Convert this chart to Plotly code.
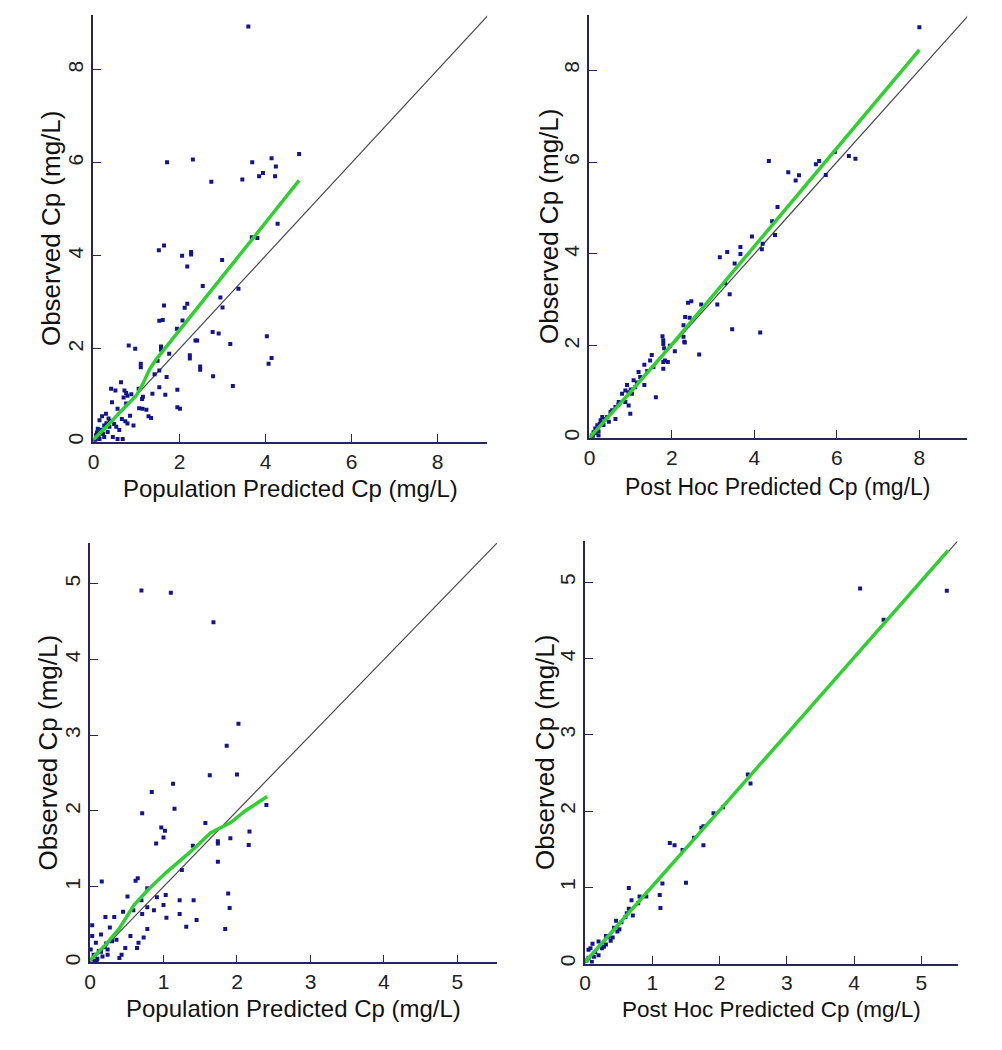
import plotly.graph_objects as go

W, H = 1002, 1050

# ---------------- data ----------------
# Panel A: population predicted (top-left)
popA_pred = [3.60, 1.71, 2.31, 2.74, 3.69, 3.46, 3.94, 3.85, 4.14, 4.24, 4.22, 4.78, 4.28, 3.68, 3.81, 1.52, 1.64, 2.06, 2.27, 2.27,
             2.18, 2.99, 2.54, 3.37, 1.64, 1.53, 1.61, 2.18, 2.12, 2.07, 1.94, 2.95, 3.00, 2.77, 2.91, 2.37, 2.41, 3.18, 4.03, 2.24,
             2.24, 2.48, 2.48, 4.14, 4.07, 2.78, 3.24, 0.82, 0.97, 1.10, 1.10, 1.57, 1.57, 1.76, 1.49, 1.53, 1.70, 0.64, 0.41, 0.51,
             0.72, 0.79, 0.76, 1.05, 1.13, 1.53, 1.67, 1.95, 1.37, 0.43, 1.06, 1.14, 1.23, 1.28, 1.34, 1.95, 2.01, 0.85, 0.79, 0.93,
             0.66, 0.74, 0.53, 0.20, 0.29, 0.14, 0.25, 0.37, 0.10, 0.33, 0.22, 0.25, 0.45, 0.56, 0.68, 0.06, 0.14, 0.56, 0.76, 0.03,
             0.08, 0.18, 0.30, 0.38, 0.48, 0.60, 0.12, 0.05, 0.35, 0.70, 0.88, 1.15, 1.42]
popA_obs = [8.93, 6.01, 6.07, 5.59, 6.01, 5.64, 5.78, 5.71, 6.10, 5.92, 5.71, 6.19, 4.69, 4.40, 4.38, 4.12, 4.22, 4.00, 4.08, 4.03,
            3.77, 3.91, 3.35, 3.29, 2.93, 2.60, 2.62, 2.97, 2.88, 2.61, 2.43, 3.10, 2.89, 2.36, 2.33, 2.18, 2.18, 2.10, 2.27, 1.86,
            1.79, 1.62, 1.55, 1.80, 1.68, 1.41, 1.20, 2.07, 2.00, 1.68, 1.60, 2.05, 1.98, 1.89, 1.74, 1.53, 1.39, 1.28, 1.14, 1.10,
            1.10, 0.99, 1.05, 1.14, 0.92, 1.17, 1.01, 1.12, 1.03, 0.85, 0.72, 0.71, 0.69, 0.55, 0.51, 0.74, 0.71, 0.56, 0.39, 0.35,
            0.49, 0.44, 0.32, 0.55, 0.60, 0.46, 0.35, 0.32, 0.28, 0.21, 0.17, 0.10, 0.10, 0.06, 0.06, 0.14, 0.06, 0.71, 0.82, 0.03,
            0.20, 0.26, 0.40, 0.45, 0.38, 0.25, 0.10, 0.05, 0.50, 0.95, 1.02, 0.97, 1.45]
loessA_x = [0.0, 0.3, 0.6, 1.0, 1.15, 1.3, 1.44, 2.0, 3.0, 4.0, 4.78]
loessA_y = [0.05, 0.32, 0.62, 1.0, 1.25, 1.55, 1.75, 2.40, 3.56, 4.72, 5.62]

# Panel B: post hoc predicted (top-right)
phB_pred = [8.00, 4.35, 4.82, 5.00, 5.08, 5.49, 5.57, 5.95, 6.29, 6.45, 5.73, 4.56, 4.43, 4.50, 3.94, 4.20, 4.18, 3.66, 3.66, 3.34,
            3.16, 3.52, 3.29, 3.40, 3.10, 3.46, 4.14, 2.71, 2.39, 2.47, 2.43, 2.32, 2.28, 2.28, 2.30, 2.66, 1.77, 1.79, 1.79, 1.81,
            2.07, 1.95, 2.31, 1.51, 1.47, 1.83, 1.90, 1.79, 1.33, 1.55, 1.79, 1.19, 1.23, 1.07, 1.11, 0.91, 0.87, 0.95, 1.33, 0.79,
            1.03, 1.61, 0.71, 0.87, 0.95, 0.99, 0.63, 0.51, 0.43, 0.63, 0.31, 0.27, 0.34, 0.19, 0.14, 0.10, 0.22, 0.47, 0.05, 0.15,
            0.25, 0.38, 0.55, 0.70, 1.00, 1.40, 1.15, 0.22, 0.08]
phB_obs = [8.93, 6.02, 5.78, 5.60, 5.71, 5.95, 6.02, 6.22, 6.13, 6.07, 5.72, 5.02, 4.71, 4.41, 4.38, 4.22, 4.10, 4.15, 4.00, 4.04,
           3.93, 3.79, 3.36, 3.12, 2.90, 2.36, 2.29, 2.90, 2.94, 2.97, 2.61, 2.63, 2.45, 2.20, 2.09, 1.81, 2.21, 2.12, 2.04, 1.95,
           1.88, 2.00, 2.07, 1.80, 1.68, 1.68, 1.65, 1.65, 1.59, 1.54, 1.50, 1.43, 1.32, 1.25, 1.10, 1.15, 1.03, 0.99, 1.15, 0.96,
           0.96, 0.88, 0.78, 0.78, 0.70, 0.52, 0.67, 0.56, 0.45, 0.41, 0.45, 0.38, 0.28, 0.27, 0.20, 0.12, 0.14, 0.35, 0.05, 0.10,
           0.30, 0.40, 0.60, 0.72, 1.05, 1.45, 1.20, 0.05, 0.02]
loessB_x = [0.0, 1.0, 2.0, 3.0, 4.0, 5.0, 6.0, 7.0, 8.0]
loessB_y = [0.0, 1.0, 2.03, 3.10, 4.17, 5.25, 6.31, 7.38, 8.44]

# Panel C: population predicted (bottom-left)
popC_pred = [0.70, 1.10, 1.68, 2.02, 1.86, 1.63, 2.00, 1.13, 0.84, 0.71, 1.15, 2.40, 1.57, 0.97, 1.02, 1.00, 0.90, 2.17, 1.91, 1.74,
             1.74, 2.16, 1.40, 1.74, 1.25, 1.88, 1.90, 1.84, 1.41, 1.22, 1.22, 1.31, 1.45, 1.03, 1.04, 1.00, 0.91, 0.87, 0.62, 0.65,
             0.16, 0.51, 0.59, 0.70, 0.78, 0.78, 0.71, 0.78, 0.73, 0.66, 0.64, 0.48, 0.43, 0.55, 0.45, 0.33, 0.21, 0.27, 0.03, 0.15,
             0.03, 0.01, 0.08, 0.15, 0.24, 0.24, 0.29, 0.17, 0.10, 0.06, 0.36, 0.20, 0.12, 0.05, 0.30, 0.40, 0.09, 0.22]
popC_obs = [4.91, 4.88, 4.49, 3.15, 2.86, 2.47, 2.48, 2.36, 2.25, 1.97, 2.03, 2.08, 1.84, 1.78, 1.74, 1.65, 1.57, 1.73, 1.64, 1.60,
            1.57, 1.55, 1.54, 1.33, 1.22, 0.91, 0.72, 0.44, 0.82, 0.82, 0.64, 0.47, 0.56, 0.89, 0.59, 0.76, 0.86, 0.69, 1.08, 1.11,
            1.07, 0.87, 0.69, 0.82, 0.98, 0.73, 0.64, 0.44, 0.33, 0.26, 0.19, 0.19, 0.10, 0.35, 0.67, 0.60, 0.60, 0.46, 0.49, 0.37,
            0.35, 0.17, 0.26, 0.14, 0.17, 0.10, 0.30, 0.08, 0.05, 0.02, 0.30, 0.20, 0.15, 0.10, 0.28, 0.06, 0.01, 0.25]
loessC_x = [0.0, 0.2, 0.4, 0.6, 0.8, 1.04, 1.4, 1.64, 1.92, 2.11, 2.41]
loessC_y = [0.03, 0.22, 0.45, 0.76, 0.97, 1.19, 1.49, 1.71, 1.85, 2.00, 2.19]

# Panel D: post hoc predicted (bottom-right)
phD_pred = [4.09, 5.38, 4.44, 2.42, 2.46, 1.91, 1.73, 1.76, 1.62, 1.45, 1.26, 1.33, 1.50, 1.15, 1.11, 1.12, 0.91, 0.81, 0.65, 0.69,
            0.65, 0.71, 0.60, 0.46, 0.51, 0.43, 0.41, 0.31, 0.31, 0.20, 0.11, 0.08, 0.20, 0.13, 0.05, 0.10, 0.25, 0.54, 0.79, 1.76,
            2.05, 0.35, 0.15, 0.28, 0.62, 0.48, 0.38, 0.05, 0.02]
phD_obs = [4.92, 4.89, 4.51, 2.48, 2.36, 1.97, 1.78, 1.55, 1.65, 1.49, 1.58, 1.55, 1.06, 1.05, 0.90, 0.73, 0.88, 0.88, 0.99, 0.83,
           0.72, 0.63, 0.61, 0.56, 0.45, 0.47, 0.34, 0.36, 0.25, 0.29, 0.26, 0.20, 0.11, 0.09, 0.07, 0.02, 0.20, 0.54, 0.79, 1.80,
           2.05, 0.35, 0.15, 0.22, 0.66, 0.42, 0.30, 0.18, 0.04]
loessD_x = [0.0, 1.0, 2.0, 3.0, 4.0, 5.40]
loessD_y = [0.02, 1.01, 2.01, 3.01, 4.02, 5.42]

ticks_big = [0, 2, 4, 6, 8]
ticks_small = [0, 1, 2, 3, 4, 5]

x_titles = ["Population Predicted Cp (mg/L)", "Post Hoc Predicted Cp (mg/L)",
            "Population Predicted Cp (mg/L)", "Post Hoc Predicted Cp (mg/L)"]
y_title = "Observed Cp (mg/L)"

# ---------------- layout geometry (pixels) ----------------
panels = [
    dict(x0=88, x1=484, y0=15, y1=443, xr=9.15, yr=9.18, ticks=ticks_big,
         px=popA_pred, py=popA_obs, lx=loessA_x, ly=loessA_y, xt_y=490, yt_x=46, xfs=24, yfs=26),
    dict(x0=587, x1=967, y0=15, y1=439, xr=9.16, yr=9.2, ticks=ticks_big,
         px=phB_pred, py=phB_obs, lx=loessB_x, ly=loessB_y, xt_y=488, yt_x=547, xfs=23, yfs=26),
    dict(x0=84.5, x1=494.1, y0=544.4, y1=965.2, xr=5.54, yr=5.54, ticks=ticks_small,
         px=popC_pred, py=popC_obs, lx=loessC_x, ly=loessC_y, xt_y=1011, yt_x=42, xfs=24, yfs=26),
    dict(x0=582.6, x1=957.3, y0=542.7, y1=966.3, xr=5.54, yr=5.54, ticks=ticks_small,
         px=phD_pred, py=phD_obs, lx=loessD_x, ly=loessD_y, xt_y=1012, yt_x=543, xfs=22.5, yfs=26),
]

AXC = "#26265e"
FONT = "Liberation Sans, Arial, sans-serif"

fig = go.Figure()
layout = dict(width=W, height=H, margin=dict(l=0, r=0, t=0, b=0),
              paper_bgcolor="white", plot_bgcolor="white", showlegend=False)
annotations = []

for i, p in enumerate(panels):
    n = i + 1
    xa = "x" if n == 1 else f"x{n}"
    ya = "y" if n == 1 else f"y{n}"
    xkey = "xaxis" if n == 1 else f"xaxis{n}"
    ykey = "yaxis" if n == 1 else f"yaxis{n}"
    lim = max(p["xr"], p["yr"])

    common = dict(showline=True, linecolor=AXC, linewidth=1.5, ticks="inside", ticklen=8,
                  tickwidth=1.3, tickcolor=AXC, showgrid=False, zeroline=False,
                  tickfont=dict(family=FONT, size=21, color="#222222"), mirror=False,
                  tickmode="array", tickvals=p["ticks"], ticktext=[str(t) for t in p["ticks"]])
    layout[xkey] = dict(domain=[p["x0"] / W, p["x1"] / W], anchor=ya, range=[0, p["xr"]], **common)
    layout[ykey] = dict(domain=[1 - p["y1"] / H, 1 - p["y0"] / H], anchor=xa, range=[0, p["yr"]],
                        tickangle=-90, **common)

    # identity line
    fig.add_trace(go.Scatter(x=[0, lim], y=[0, lim], mode="lines", xaxis=xa, yaxis=ya,
                             line=dict(color="#4a4a4a", width=1.2), cliponaxis=True, hoverinfo="skip"))
    # observations
    fig.add_trace(go.Scatter(x=p["px"], y=p["py"], mode="markers", xaxis=xa, yaxis=ya,
                             marker=dict(symbol="square", size=4, color="#14148c", line=dict(width=0))))
    # smooth
    fig.add_trace(go.Scatter(x=p["lx"], y=p["ly"], mode="lines", xaxis=xa, yaxis=ya,
                             line=dict(color="#2fd02f", width=3.5)))

    cx = (p["x0"] + p["x1"]) / 2 / W
    cy = 1 - (p["y0"] + p["y1"]) / 2 / H
    annotations.append(dict(text=x_titles[i], x=cx, y=1 - p["xt_y"] / H, xref="paper", yref="paper",
                            xanchor="center", yanchor="middle", showarrow=False,
                            font=dict(family=FONT, size=p["xfs"], color="#111111")))
    annotations.append(dict(text=y_title, x=p["yt_x"] / W, y=cy, xref="paper", yref="paper",
                            xanchor="center", yanchor="middle", showarrow=False, textangle=-90,
                            font=dict(family=FONT, size=p["yfs"], color="#111111")))

layout["annotations"] = annotations
fig.update_layout(**layout)
fig.write_html("out.html", config={"displayModeBar": False},
               post_script="document.body.style.margin='0';")
